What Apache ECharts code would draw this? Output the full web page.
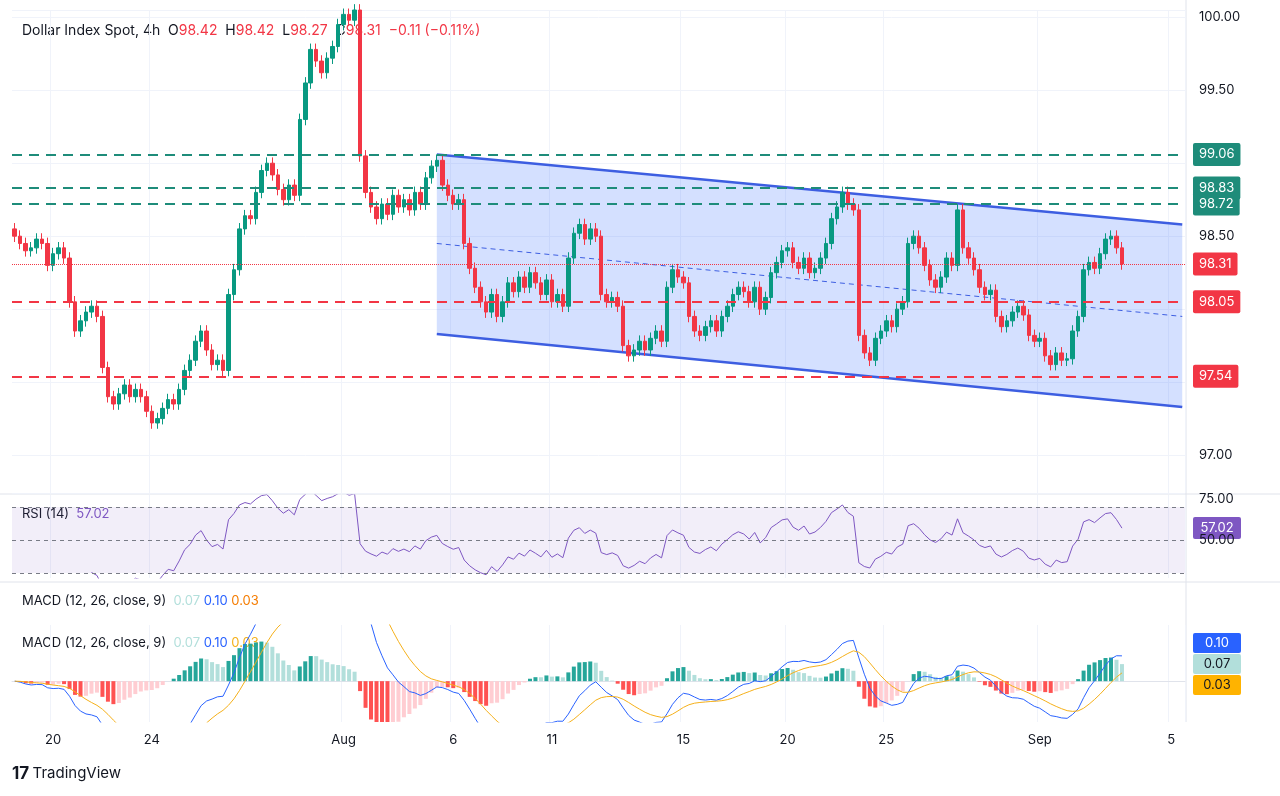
<!DOCTYPE html><html><head><meta charset="utf-8"><script src="https://cdn.jsdelivr.net/npm/echarts@6/dist/echarts.min.js"></script>
<style>html,body{margin:0;background:#fff}#c{width:1280px;height:796px}</style></head><body><div id="c"></div><script>
const closes=[98.50,98.45,98.40,98.42,98.48,98.45,98.30,98.38,98.42,98.35,98.05,97.85,97.92,97.98,98.02,97.95,97.60,97.40,97.35,97.42,97.48,97.40,97.45,97.40,97.30,97.22,97.25,97.32,97.38,97.35,97.45,97.58,97.65,97.78,97.85,97.72,97.62,97.65,97.58,98.10,98.27,98.55,98.64,98.62,98.80,98.95,99.00,98.92,98.82,98.75,98.85,98.78,99.30,99.55,99.78,99.70,99.62,99.72,99.80,99.95,100.02,99.98,100.05,99.05,98.80,98.70,98.62,98.72,98.65,98.78,98.70,98.75,98.68,98.80,98.72,98.90,98.98,99.02,98.85,98.78,98.72,98.75,98.45,98.28,98.15,98.05,97.98,98.10,97.95,98.05,98.18,98.12,98.22,98.15,98.25,98.18,98.10,98.20,98.05,98.10,98.02,98.35,98.52,98.58,98.48,98.55,98.50,98.10,98.05,98.08,98.02,97.75,97.68,97.72,97.78,97.72,97.80,97.85,97.78,98.15,98.27,98.22,98.18,97.95,97.85,97.82,97.88,97.92,97.85,97.95,98.02,98.10,98.15,98.12,98.05,98.15,98.00,98.08,98.25,98.32,98.40,98.42,98.32,98.28,98.35,98.25,98.28,98.35,98.45,98.62,98.70,98.80,98.72,98.68,97.82,97.70,97.65,97.80,97.85,97.92,97.88,98.00,98.05,98.45,98.50,98.42,98.30,98.20,98.15,98.22,98.35,98.30,98.68,98.42,98.35,98.27,98.15,98.10,98.13,97.95,97.88,97.92,97.98,98.02,97.96,97.82,97.78,97.80,97.68,97.62,97.70,97.65,97.66,97.85,97.95,98.27,98.32,98.28,98.38,98.48,98.50,98.42,98.31];
const firstOpen=98.55;
const tickIdx=[7,25,60,80,98,122,141,159,187,211];
const tickLabels=['20','24','Aug','6','11','15','20','25','Sep','5'];
const priceTicks=[97,98.5,99.5,100];
const tealLevels=[99.06,98.83,98.72];
const redLevels=[98.05,97.54];
const lastPrice=98.31;
const channelUpper=[[77,99.06],[213,98.58]];
const channelLower=[[77,97.83],[213,97.33]];
const channelMid=[[77,98.45],[213,97.95]];
const N=214;
const cats=[...Array(N).keys()].map(String);
const UP='#089981',DN='#f23645';
const candles=closes.map((c,i)=>{const o=i?closes[i-1]:firstOpen;return [o,c,Math.min(o,c)-0.04,Math.max(o,c)+0.04];});
function rsi(a,p){const r=[];let g=0,l=0;for(let i=1;i<a.length;i++){const d=a[i]-a[i-1],up=Math.max(d,0),dn=Math.max(-d,0);if(i<=p){g+=up/p;l+=dn/p;}else{g=(g*(p-1)+up)/p;l=(l*(p-1)+dn)/p;}r[i]=i>=p?(l===0?100:100-100/(1+g/l)):'-';}r[0]='-';return r;}
function ema(a,p){const k=2/(p+1);const r=[];a.forEach((v,i)=>r[i]=i?v*k+r[i-1]*(1-k):v);return r;}
const rsiV=rsi(closes,14);
const e12=ema(closes,12),e26=ema(closes,26);
const macd=e12.map((v,i)=>v-e26[i]);const sig=ema(macd,9);
const hist=macd.map((v,i)=>{const h=v-sig[i];const ph=i?macd[i-1]-sig[i-1]:0;const col=h>=0?(h>=ph?'#26a69a':'#b2dfdb'):(h<ph?'#ff5252':'#ffcdd2');return {value:h,itemStyle:{color:col}};});
const G=[{left:12,right:95,top:10,height:483},{left:12,right:95,top:495,height:83},{left:12,right:95,top:625,height:97}];
const xAx=i=>({type:'category',data:cats,gridIndex:i,boundaryGap:true,axisTick:{show:false},axisLine:{show:i===2,lineStyle:{color:'#e0e3eb'}},splitLine:{show:true,interval:(k)=>tickIdx.includes(k),lineStyle:{color:'#f0f3fa'}},axisLabel:{show:i===2,interval:(k)=>tickIdx.includes(k),formatter:(v)=>tickLabels[tickIdx.indexOf(+v)],color:'#131722',fontSize:13,margin:12,fontFamily:'Inter'}});
const ml=(v,col,type,w)=>({yAxis:v,lineStyle:{color:col,type:type,width:w},label:{show:true,position:'end',formatter:v.toFixed(2),backgroundColor:col,color:'#fff',padding:[5,6],fontSize:13,fontFamily:'Inter',borderRadius:2,distance:8}});
const chart=echarts.init(document.getElementById('c'));
chart.setOption({animation:false,grid:G,
xAxis:[xAx(0),xAx(1),xAx(2)],
yAxis:[{gridIndex:0,position:'right',min:96.74,max:100.05,axisLine:{show:false},splitLine:{lineStyle:{color:'#f0f3fa'}},axisLabel:{color:'#131722',fontSize:13,fontFamily:'Inter',margin:14,customValues:priceTicks,formatter:v=>v.toFixed(2)},axisTick:{show:false}},
{gridIndex:1,position:'right',min:27,max:77.3,axisLine:{show:false},splitLine:{show:false},axisTick:{show:false},axisLabel:{color:'#131722',fontSize:13,fontFamily:'Inter',margin:14,customValues:[75,50],formatter:v=>v.toFixed(2)}},
{gridIndex:2,position:'right',min:-0.16,max:0.22,axisLine:{show:false},splitLine:{show:false},axisLabel:{show:false}}],
series:[
{type:'custom',xAxisIndex:0,yAxisIndex:0,renderItem:(p,api)=>{if(p.dataIndex)return;const pts=[channelUpper[0],channelUpper[1],channelLower[1],channelLower[0]].map(d=>api.coord([d[0],d[1]]));return {type:'polygon',shape:{points:pts},style:{fill:'rgba(41,98,255,0.2)'}};},data:[[0,0]],silent:true,z:1},
{type:'line',data:channelUpper,xAxisIndex:0,yAxisIndex:0,symbol:'none',lineStyle:{color:'#3d5ee1',width:2.5},z:3},
{type:'line',data:channelLower,xAxisIndex:0,yAxisIndex:0,symbol:'none',lineStyle:{color:'#3d5ee1',width:2.5},z:3},
{type:'line',data:channelMid,xAxisIndex:0,yAxisIndex:0,symbol:'none',lineStyle:{color:'#3d5ee1',width:1,type:[5,4]},z:3},
{type:'candlestick',data:candles,xAxisIndex:0,yAxisIndex:0,barWidth:4,itemStyle:{color:UP,color0:DN,borderColor:UP,borderColor0:DN},z:4,
markLine:{symbol:'none',silent:true,data:[...tealLevels.map(v=>ml(v,'#1e8c7a',[10,7],2)),...redLevels.map(v=>ml(v,'#f23645',[10,7],2)),ml(lastPrice,'#f23645','dotted',1)]}},
{type:'line',data:rsiV,xAxisIndex:1,yAxisIndex:1,symbol:'none',lineStyle:{color:'#7e57c2',width:1},
markArea:{silent:true,itemStyle:{color:'rgba(126,87,194,0.1)'},data:[[{yAxis:30},{yAxis:70}]]},
markLine:{symbol:'none',silent:true,label:{show:false},lineStyle:{color:'#787b86',type:[4,4],width:1},data:[{yAxis:70},{yAxis:50},{yAxis:30}]}},
{type:'bar',data:hist,xAxisIndex:2,yAxisIndex:2,barWidth:4},
{type:'line',data:macd,xAxisIndex:2,yAxisIndex:2,symbol:'none',lineStyle:{color:'#2962ff',width:1}},
{type:'line',data:sig,xAxisIndex:2,yAxisIndex:2,symbol:'none',lineStyle:{color:'#f5b01a',width:1}}
],
graphic:[
{type:'text',left:22,top:24,style:{rich:{a:{fill:'#131722',fontSize:14,fontFamily:'Inter'},r:{fill:'#f23645',fontSize:14,fontFamily:'Inter'}},text:'{a|Dollar Index Spot, 4h  O}{r|98.42}{a|  H}{r|98.42}{a|  L}{r|98.27}{a|  C}{r|98.31  −0.11 (−0.11%)}'}},
{type:'text',left:22,top:508,style:{rich:{a:{fill:'#131722',fontSize:13,fontFamily:'Inter'},p:{fill:'#7e57c2',fontSize:13,fontFamily:'Inter'}},text:'{a|RSI (14)  }{p|57.02}'}},
{type:'text',left:22,top:595,style:{rich:{a:{fill:'#131722',fontSize:13,fontFamily:'Inter'},t:{fill:'#b2dfdb',fontSize:13,fontFamily:'Inter'},b:{fill:'#2962ff',fontSize:13,fontFamily:'Inter'},o:{fill:'#f57c00',fontSize:13,fontFamily:'Inter'}},text:'{a|MACD (12, 26, close, 9)  }{t|0.07 }{b|0.10 }{o|0.03}'}},
{type:'text',left:22,top:637,style:{rich:{a:{fill:'#131722',fontSize:13,fontFamily:'Inter'},t:{fill:'#b2dfdb',fontSize:13,fontFamily:'Inter'},b:{fill:'#2962ff',fontSize:13,fontFamily:'Inter'},o:{fill:'#f5b01a',fontSize:13,fontFamily:'Inter'}},text:'{a|MACD (12, 26, close, 9)  }{t|0.07 }{b|0.10 }{o|0.03}'}},
{type:'rect',shape:{x:1193,y:517,width:48,height:22,r:2},style:{fill:'#7e57c2'}},
{type:'text',x:1217,y:528,style:{text:'57.02',fill:'#fff',fontSize:13,fontFamily:'Inter',align:'center',verticalAlign:'middle'}},
{type:'rect',shape:{x:1193,y:633,width:48,height:20,r:2},style:{fill:'#2962ff'}},
{type:'text',x:1217,y:643,style:{text:'0.10',fill:'#fff',fontSize:13,fontFamily:'Inter',align:'center',verticalAlign:'middle'}},
{type:'rect',shape:{x:1193,y:654,width:48,height:20,r:2},style:{fill:'#b2dfdb'}},
{type:'text',x:1217,y:664,style:{text:'0.07',fill:'#131722',fontSize:13,fontFamily:'Inter',align:'center',verticalAlign:'middle'}},
{type:'rect',shape:{x:1193,y:675,width:48,height:20,r:2},style:{fill:'#ffb300'}},
{type:'text',x:1217,y:685,style:{text:'0.03',fill:'#131722',fontSize:13,fontFamily:'Inter',align:'center',verticalAlign:'middle'}},
{type:'line',shape:{x1:0,y1:494,x2:1280,y2:494},style:{stroke:'#e0e3eb',lineWidth:1}},
{type:'line',shape:{x1:0,y1:582,x2:1280,y2:582},style:{stroke:'#e0e3eb',lineWidth:1}},
{type:'line',shape:{x1:1186,y1:0,x2:1186,y2:722},style:{stroke:'#e0e3eb',lineWidth:1}},
{type:'text',left:12,top:765,style:{rich:{l:{fill:'#131722',fontSize:17,fontWeight:'bold',fontFamily:'Inter'},a:{fill:'#131722',fontSize:15,fontFamily:'Inter'}},text:'{l|17} {a|TradingView}'}}
]});
</script></body></html>
